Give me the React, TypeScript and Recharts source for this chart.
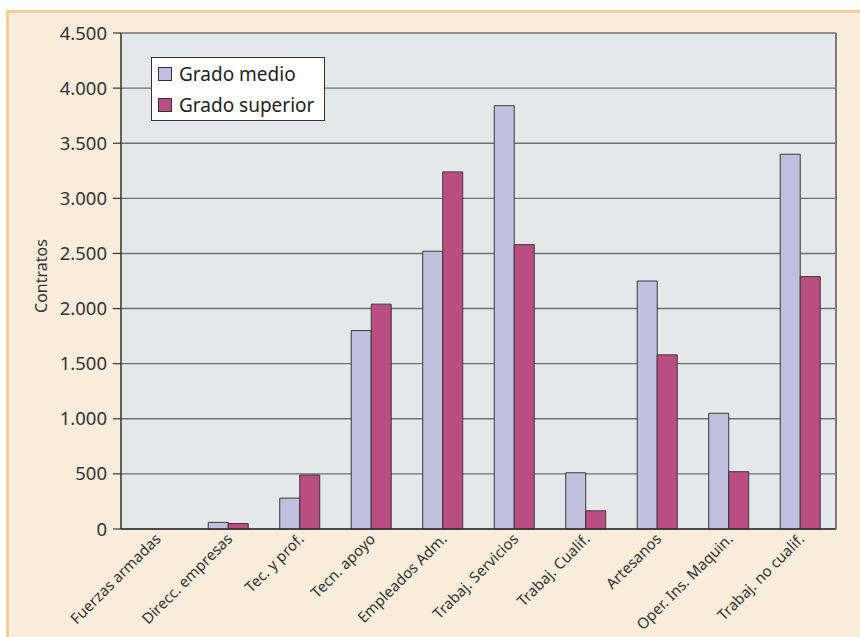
import React from 'react';
import { BarChart, Bar, XAxis, YAxis, CartesianGrid, Legend } from 'recharts';

const categories = [
  'Fuerzas armadas',
  'Direcc. empresas',
  'Tec. y prof.',
  'Tecn. apoyo',
  'Empleados Adm.',
  'Trabaj. Servicios',
  'Trabaj. Cualif.',
  'Artesanos',
  'Oper. Ins. Maquin.',
  'Trabaj. no cualif.',
];
const gradoMedio = [0, 60, 280, 1800, 2520, 3840, 510, 2250, 1050, 3400];
const gradoSuperior = [0, 50, 490, 2040, 3240, 2580, 165, 1580, 520, 2290];
const yTicks = [0, 500, 1000, 1500, 2000, 2500, 3000, 3500, 4000, 4500];
const boundaryTicks = [0, 1, 2, 3, 4, 5, 6, 7, 8, 9, 10];
const seriesNames = ['Grado medio', 'Grado superior'];

const data = categories.map((c, i) => ({
  name: c,
  medio: gradoMedio[i],
  superior: gradoSuperior[i],
}));

const FONT = '"Noto Sans", sans-serif';

const fmt = (v: number) =>
  v >= 1000 ? `${Math.floor(v / 1000)}.${String(v % 1000).padStart(3, '0')}` : String(v);

const XTick = (props: any) => {
  const { x, y, payload } = props;
  const ax = x + 5;
  const ay = y + 3;
  return (
    <text
      x={ax}
      y={ay}
      transform={`rotate(-45 ${ax} ${ay})`}
      textAnchor="end"
      fontSize={15}
      fill="#333"
      fontFamily={FONT}
    >
      {payload.value}
    </text>
  );
};

const YLabel = (props: any) => {
  const vb = props.viewBox || {};
  const cx = vb.x + 47;
  const cy = vb.y + vb.height / 2 - 5;
  return (
    <text
      x={cx}
      y={cy}
      transform={`rotate(-90 ${cx} ${cy})`}
      textAnchor="middle"
      fontSize={16}
      fill="#333"
      fontFamily={FONT}
    >
      Contratos
    </text>
  );
};

const LegendBox = (props: any) => {
  const payload = props.payload || [];
  return (
    <div
      style={{
        width: 172,
        height: 62,
        border: '1px solid #333',
        background: '#fff',
        fontFamily: FONT,
        boxSizing: 'content-box',
      }}
    >
      {payload.map((p: any, i: number) => (
        <div
          key={i}
          style={{
            display: 'flex',
            alignItems: 'center',
            height: 31,
            paddingLeft: 6,
          }}
        >
          <span
            style={{
              display: 'inline-block',
              width: 12,
              height: 12,
              background: p.color,
              border: '1px solid #333',
              marginRight: 7,
            }}
          />
          <span style={{ fontSize: 19, color: '#222', lineHeight: '20px' }}>{p.value}</span>
        </div>
      ))}
    </div>
  );
};

export default function App() {
  return (
    <div
      style={{
        position: 'absolute',
        left: 0,
        top: 0,
        width: 860,
        height: 637,
        background: '#fff',
        overflow: 'hidden',
      }}
    >
      <div
        style={{
          position: 'absolute',
          left: 6,
          top: 10,
          width: 860,
          height: 637,
          background: '#FBEDDB',
          borderTop: '3px solid #F8CD97',
          borderLeft: '3px solid #F8CD97',
        }}
      />
      <div style={{ position: 'absolute', left: 0, top: 0 }}>
        <BarChart
          width={860}
          height={637}
          data={data}
          margin={{ top: 33, right: 23, bottom: 0, left: 0 }}
          barCategoryGap="22%"
          barGap={0}
        >
          <CartesianGrid
            vertical={false}
            fill="#E6E7E9"
            stroke="#707070"
            strokeWidth={1.4}
            yAxisId="left"
          />
          <XAxis
            xAxisId="bounds"
            type="number"
            domain={[0, 10]}
            ticks={boundaryTicks}
            interval={0}
            height={1}
            axisLine={false}
            tick={false}
            tickLine={{ stroke: '#333', strokeWidth: 1.2 }}
            tickSize={7}
            allowDataOverflow
          />
          <XAxis
            dataKey="name"
            height={107}
            interval={0}
            axisLine={{ stroke: '#333', strokeWidth: 1.5 }}
            tickLine={false}
            tick={<XTick />}
          />
          <YAxis
            yAxisId="left"
            width={121}
            domain={[0, 4500]}
            ticks={yTicks}
            interval={0}
            tickFormatter={fmt}
            axisLine={{ stroke: '#333', strokeWidth: 1.5 }}
            tickLine={{ stroke: '#333', strokeWidth: 1.2 }}
            tickSize={8}
            tickMargin={6}
            tick={{ fontSize: 18.5, fill: '#333', fontFamily: FONT }}
            label={<YLabel />}
          />
          <YAxis
            yAxisId="right"
            orientation="right"
            width={1}
            domain={[0, 4500]}
            tick={false}
            tickLine={false}
            axisLine={{ stroke: '#7a7a7a', strokeWidth: 2 }}
          />
          <Legend
            layout="vertical"
            align="center"
            verticalAlign="middle"
            wrapperStyle={{ position: 'absolute', left: 151, top: 57, width: 174 }}
            content={<LegendBox />}
          />
          <Bar
            yAxisId="left"
            dataKey="medio"
            name={seriesNames[0]}
            fill="#C2BEDD"
            stroke="#3a3a3a"
            strokeWidth={1}
            isAnimationActive={false}
          />
          <Bar
            yAxisId="left"
            dataKey="superior"
            name={seriesNames[1]}
            fill="#BA4D82"
            stroke="#3a3a3a"
            strokeWidth={1}
            isAnimationActive={false}
          />
        </BarChart>
      </div>
    </div>
  );
}
